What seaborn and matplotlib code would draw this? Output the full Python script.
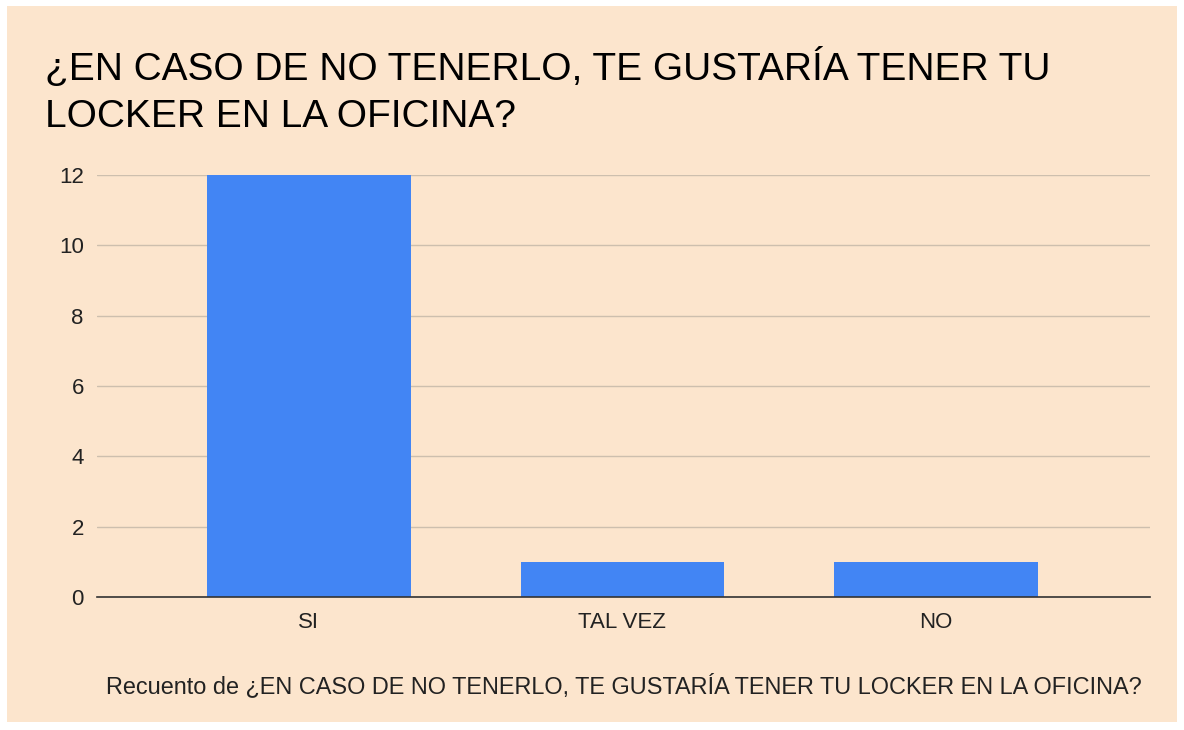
import matplotlib
matplotlib.use("Agg")
import matplotlib.pyplot as plt
import seaborn as sns
import pandas as pd
from matplotlib.patches import Rectangle

categories = ["SI", "TAL VEZ", "NO"]
counts = [12, 1, 1]
yticks = [0, 2, 4, 6, 8, 10, 12]

title_lines = ["¿EN CASO DE NO TENERLO, TE GUSTARÍA TENER TU", "LOCKER EN LA OFICINA?"]
xlabel = "Recuento de ¿EN CASO DE NO TENERLO, TE GUSTARÍA TENER TU LOCKER EN LA OFICINA?"

sns.set_theme(style="white")
plt.rcParams['font.family'] = ['Liberation Sans', 'DejaVu Sans']

bg = "#fce5cd"
W, H = 1184, 730
fig = plt.figure(figsize=(W/100, H/100), dpi=100, facecolor="white")
fig.add_artist(Rectangle((7/W, 8/H), (1177-7)/W, (724-8)/H, transform=fig.transFigure,
                         facecolor=bg, edgecolor="none", zorder=-10))

ax = fig.add_axes([97/W, 1-597/H, (1150-97)/W, (597-175)/H])
ax.set_facecolor(bg)
df = pd.DataFrame({"cat": categories, "val": counts})
sns.barplot(data=df, x="cat", y="val", color="#4285f4", saturation=1, width=0.65, ax=ax, zorder=3)
for p in ax.patches:
    p.set_edgecolor("none")
ax.set_xlim(-0.676, 2.683)
ax.set_ylim(0, 12)
ax.set_yticks(yticks)
ax.yaxis.grid(True, color="#cdbfae", linewidth=1, zorder=0)
ax.set_axisbelow(True)
for s in ["top", "right", "left"]:
    ax.spines[s].set_visible(False)
ax.spines["bottom"].set_color("#333333")
ax.spines["bottom"].set_linewidth(1.2)
ax.spines["bottom"].set_zorder(5)
ax.tick_params(axis="both", length=0, labelsize=16, colors="#222222")
ax.tick_params(axis="y", pad=9.5)
ax.tick_params(axis="x", pad=11)
ax.set_ylabel("")
ax.set_xlabel(xlabel, fontsize=16.9, color="#222222", va="baseline")
ax.xaxis.set_label_coords((624-97)/(1150-97), -(693-597)/(597-175))

for i, (line, base) in enumerate(zip(title_lines, [80, 127])):
    fig.text(45/W, 1-base/H, line, fontsize=28, color="#000000", ha="left", va="baseline")

fig.savefig("out.png", dpi=100, facecolor="white")
